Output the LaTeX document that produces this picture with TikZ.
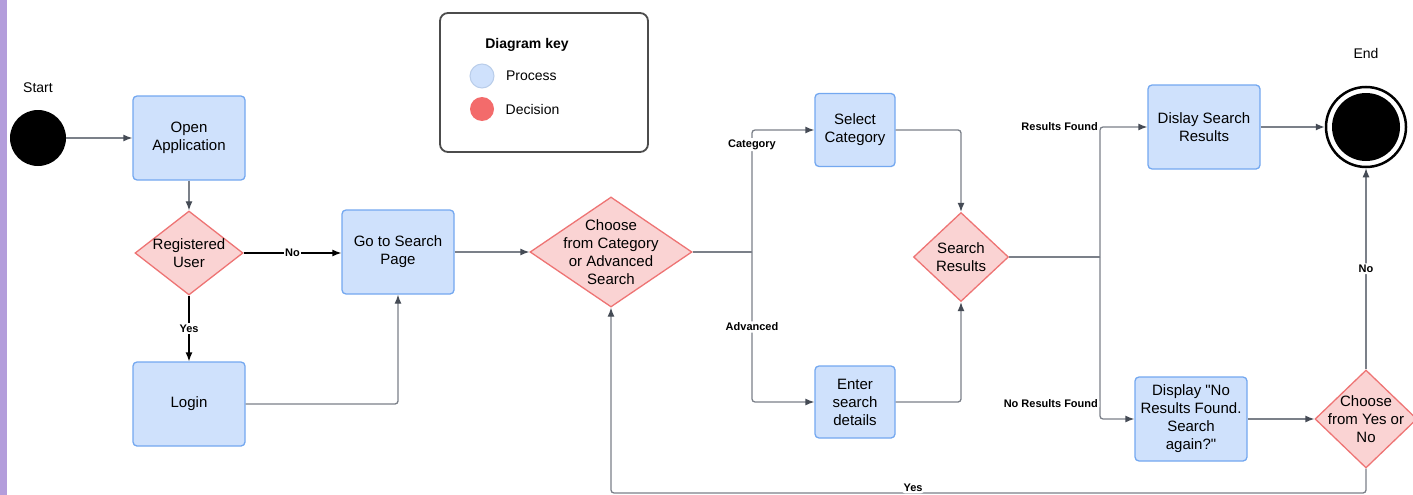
\documentclass[tikz,border=0pt]{standalone}
\usepackage{fontspec}
\setmainfont{Liberation Sans}
\usetikzlibrary{arrows.meta,shapes.geometric,positioning}
\definecolor{procfill}{HTML}{CFE1FC}
\definecolor{procline}{HTML}{74A8F0}
\definecolor{decfill}{HTML}{FAD3D3}
\definecolor{decline}{HTML}{EE7474}
\definecolor{wire}{HTML}{7B8089}
\definecolor{tipc}{HTML}{454B55}
\definecolor{stripe}{HTML}{B39DDB}
\definecolor{keyred}{HTML}{F36B6B}
\definecolor{keyblueline}{HTML}{B9CDEA}
\tikzset{
  process/.style={draw=procline, fill=procfill, rounded corners=4pt, line width=1.3pt,
    minimum width=112pt, minimum height=84pt, align=center, inner sep=2pt,
    font=\fontsize{15}{18}\selectfont},
  dectext/.style={align=center, font=\fontsize{15}{18}\selectfont},
  decision/.style n args={3}{diamond, draw=decline, fill=decfill, line width=1.3pt,
    inner sep=0pt, minimum width=#1, minimum height=#2, label={[dectext]center:#3}},
  wireline/.style={draw=wire, line width=1.3pt, rounded corners=3pt},
  arr/.style={wireline, -{Latex[length=9pt,width=7pt,color=tipc]}},
  darkarr/.style={draw=black, line width=1.3pt, -{Latex[length=9pt,width=7pt]}},
  lbl/.style={fill=white, inner sep=1.5pt, font=\fontsize{11}{13}\selectfont\bfseries},
  plain/.style={font=\fontsize{14}{17}\selectfont}
}
\begin{document}
\begin{tikzpicture}[x=1pt,y=-1pt]
  \useasboundingbox (0,0) rectangle (1413,495);
  \clip (0,0) rectangle (1413,495);
  \fill[white] (0,0) rectangle (1413,495);
  \fill[stripe] (0,0) rectangle (7,495);

  \node[plain] (starttxt) at (38,88) {Start};
  \node[circle, fill=black, minimum size=56pt] (start) at (38,138) {};
  \node[process] (open) at (189,138) {Open\\Application};
  \node[decision={108pt}{84pt}{Registered\\User}] (reg) at (189,253) {};
  \node[process] (gosearch) at (398,252) {Go to Search\\Page};
  \node[process] (login) at (189,404) {Login};
  \node[decision={162pt}{110pt}{Choose\\from Category\\or Advanced\\Search}] (choose) at (611,252) {};
  \coordinate (split) at (752,252);
  \node[process, minimum width=80pt, minimum height=73pt] (selcat) at (855,130) {Select\\Category};
  \node[process, minimum width=80pt, minimum height=72pt] (enter) at (855,402) {Enter\\search\\details};
  \node[decision={95pt}{89pt}{Search\\Results}] (results) at (961,257) {};
  \coordinate (branch) at (1100,257);
  \node[process] (display) at (1204,127) {Dislay Search\\Results};
  \node[process] (noresult) at (1191,419) {Display \textquotedbl No\\Results Found.\\Search\\again?\textquotedbl};
  \node[decision={102pt}{98pt}{Choose\\from Yes or\\No}] (again) at (1366,419) {};
  \node[plain] (endtxt) at (1366,53) {End};
  \node[circle, draw=black, fill=white, line width=2.5pt, minimum size=80pt] (end) at (1366,127) {};
  \node[circle, fill=black, minimum size=68pt] (enddot) at (end.center) {};
  \coordinate (bottom) at (0,493);

  \draw[arr] (start) -- (open);
  \draw[arr] (open) -- (reg);
  \draw[darkarr] (reg.east) -- node[lbl]{No} (reg.east -| gosearch.west);
  \draw[darkarr] (reg) -- node[lbl]{Yes} (login);
  \draw[arr] (login) -| (gosearch);
  \draw[arr] (gosearch) -- (choose);
  \draw[wireline] (choose) -- (split);
  \draw[arr] (split) |- node[lbl, pos=0.44]{Category} (selcat);
  \draw[arr] (split) |- node[lbl, pos=0.25]{Advanced} (enter);
  \draw[arr] (selcat) -| (results);
  \draw[arr] (enter) -| (results);
  \draw[wireline] (results) -- (branch);
  \draw[arr] (branch) |- node[lbl, pos=0.5, left]{Results Found} (display);
  \draw[arr] (branch) |- node[lbl, pos=0.5, left, yshift=15pt]{No Results Found} (noresult);
  \draw[arr] (display) -- (end);
  \draw[arr] (noresult) -- (again);
  \draw[arr] (again) -- node[lbl]{No} (end);
  \draw[arr] (again.south) -- (again.south |- bottom) -| node[lbl, pos=0.3, yshift=5pt]{Yes} (choose.south);

  \node[draw=black!70, line width=1.8pt, rounded corners=8pt, minimum width=208pt, minimum height=139pt] (key) at (544,82.5) {};
  \node[font=\fontsize{14}{17}\selectfont\bfseries] (keytitle) at (527,45) {Diagram key};
  \node[circle, fill=procfill, draw=keyblueline, line width=1pt, minimum size=24pt] (kproc) at (482,76) {};
  \node[plain, right=8pt of kproc] (kproctxt) {Process};
  \node[circle, fill=keyred, minimum size=24pt] (kdec) at (482,109) {};
  \node[plain, right=8pt of kdec] (kdectxt) {Decision};
\end{tikzpicture}
\end{document}
